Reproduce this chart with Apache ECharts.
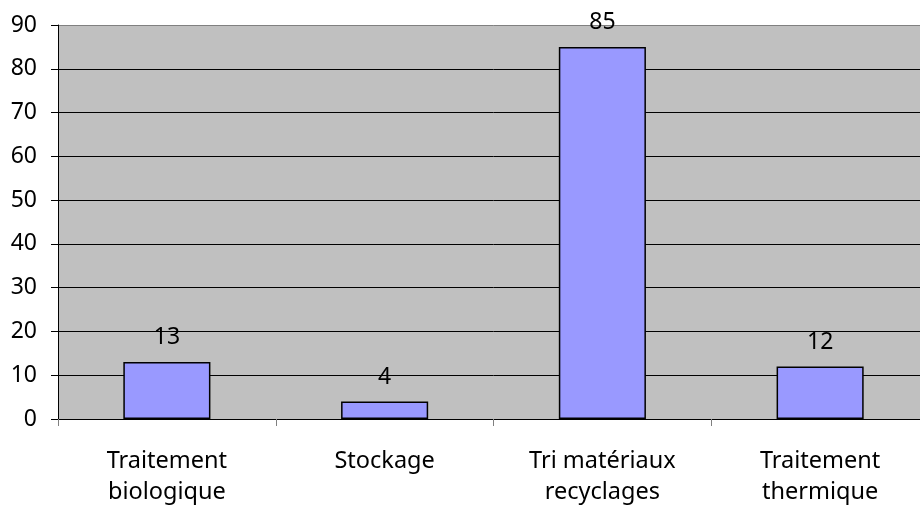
<!DOCTYPE html>
<html><head><meta charset="utf-8">
<script src="https://cdn.jsdelivr.net/npm/echarts@6/dist/echarts.min.js"></script>
<style>html,body{margin:0;padding:0;background:#fff;overflow:hidden;width:920px;height:508px}#c{width:944px;height:508px}</style>
</head><body><div id="c"></div>
<script>
var categories = ['Traitement\nbiologique', 'Stockage', 'Tri matériaux\nrecyclages', 'Traitement\nthermique'];
var values = [13, 4, 85, 12];
var yTicks = [0, 10, 20, 30, 40, 50, 60, 70, 80, 90];

var font = 'Noto Sans';
var chart = echarts.init(document.getElementById('c'), null, {renderer: 'canvas'});
chart.setOption({
  animation: false,
  grid: {left: 58, top: 25, bottom: 86.5, right: 15, show: true, backgroundColor: '#C0C0C0', borderWidth: 0},
  xAxis: {
    type: 'category', data: categories,
    axisLine: {lineStyle: {color: '#000', width: 1}},
    axisTick: {show: true, length: 7, lineStyle: {color: '#808080'}},
    axisLabel: {color: '#000', fontFamily: font, fontSize: 23.5, lineHeight: 31, margin: 27}
  },
  yAxis: {
    type: 'value', min: yTicks[0], max: yTicks[yTicks.length - 1], interval: 10,
    axisLine: {show: true, lineStyle: {color: '#000', width: 1}},
    axisTick: {show: true, length: 7, lineStyle: {color: '#000'}},
    axisLabel: {color: '#000', fontFamily: font, fontSize: 23, margin: 21},
    splitLine: {show: true, lineStyle: {color: ['#000','#000','#000','#000','#000','#000','#000','#000','#000','#808080'], width: 1}}
  },
  series: [{
    type: 'bar', data: values, barWidth: '40%',
    itemStyle: {color: '#9999FF', borderColor: '#000', borderWidth: 1.5},
    label: {show: true, position: 'top', distance: 13, color: '#000', fontFamily: font, fontSize: 23}
  }]
});
</script></body></html>
